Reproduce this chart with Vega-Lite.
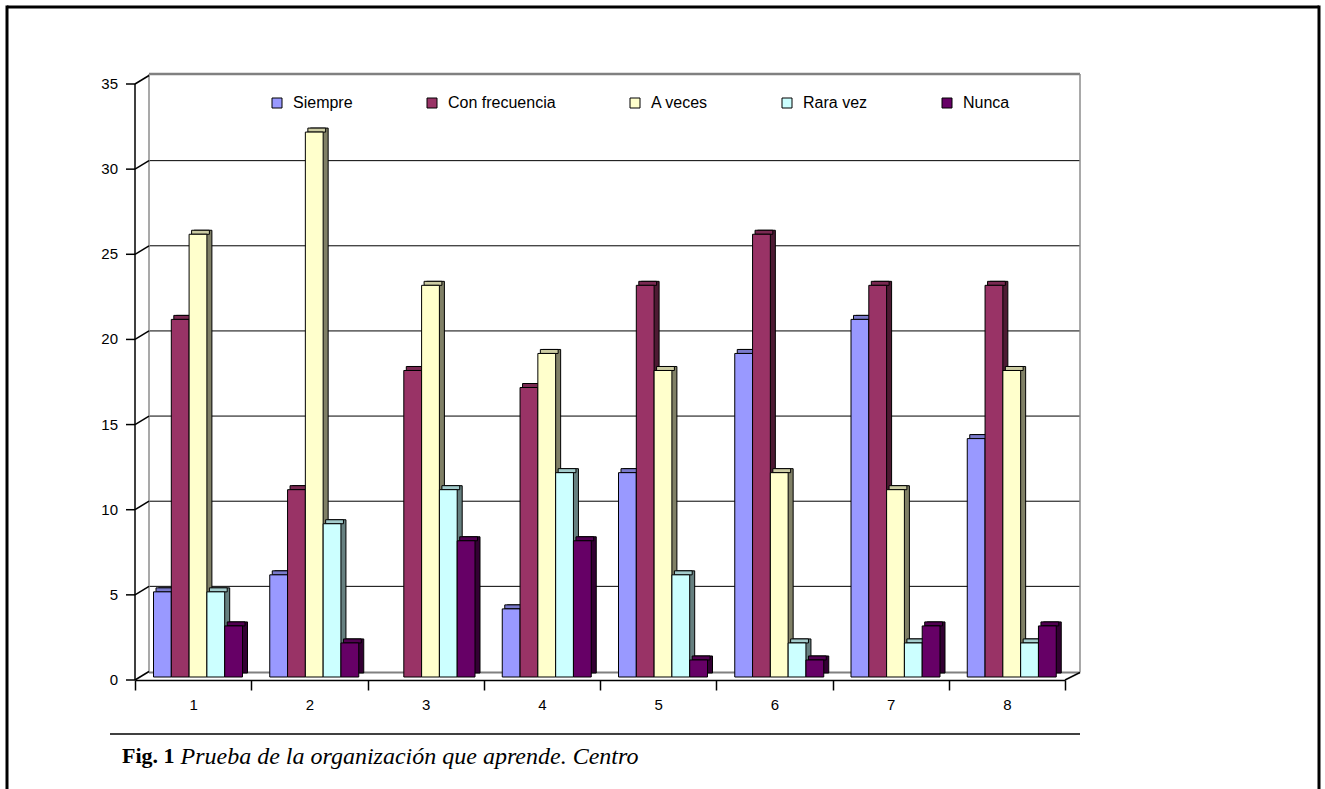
{
  "$schema": "https://vega.github.io/schema/vega-lite/v6.json",
  "width": 1184,
  "height": 787,
  "autosize": "none",
  "padding": {"left": 135, "top": 7, "right": 6, "bottom": -5},
  "background": "white",
  "config": {
    "font": "Liberation Sans",
    "view": {"stroke": null}
  },
  "datasets": {
    "barras": [
      {"grupo": "1", "serie": "Siempre", "valor": 5},
      {"grupo": "1", "serie": "Con frecuencia", "valor": 21},
      {"grupo": "1", "serie": "A veces", "valor": 26},
      {"grupo": "1", "serie": "Rara vez", "valor": 5},
      {"grupo": "1", "serie": "Nunca", "valor": 3},
      {"grupo": "2", "serie": "Siempre", "valor": 6},
      {"grupo": "2", "serie": "Con frecuencia", "valor": 11},
      {"grupo": "2", "serie": "A veces", "valor": 32},
      {"grupo": "2", "serie": "Rara vez", "valor": 9},
      {"grupo": "2", "serie": "Nunca", "valor": 2},
      {"grupo": "3", "serie": "Con frecuencia", "valor": 18},
      {"grupo": "3", "serie": "A veces", "valor": 23},
      {"grupo": "3", "serie": "Rara vez", "valor": 11},
      {"grupo": "3", "serie": "Nunca", "valor": 8},
      {"grupo": "4", "serie": "Siempre", "valor": 4},
      {"grupo": "4", "serie": "Con frecuencia", "valor": 17},
      {"grupo": "4", "serie": "A veces", "valor": 19},
      {"grupo": "4", "serie": "Rara vez", "valor": 12},
      {"grupo": "4", "serie": "Nunca", "valor": 8},
      {"grupo": "5", "serie": "Siempre", "valor": 12},
      {"grupo": "5", "serie": "Con frecuencia", "valor": 23},
      {"grupo": "5", "serie": "A veces", "valor": 18},
      {"grupo": "5", "serie": "Rara vez", "valor": 6},
      {"grupo": "5", "serie": "Nunca", "valor": 1},
      {"grupo": "6", "serie": "Siempre", "valor": 19},
      {"grupo": "6", "serie": "Con frecuencia", "valor": 26},
      {"grupo": "6", "serie": "A veces", "valor": 12},
      {"grupo": "6", "serie": "Rara vez", "valor": 2},
      {"grupo": "6", "serie": "Nunca", "valor": 1},
      {"grupo": "7", "serie": "Siempre", "valor": 21},
      {"grupo": "7", "serie": "Con frecuencia", "valor": 23},
      {"grupo": "7", "serie": "A veces", "valor": 11},
      {"grupo": "7", "serie": "Rara vez", "valor": 2},
      {"grupo": "7", "serie": "Nunca", "valor": 3},
      {"grupo": "8", "serie": "Siempre", "valor": 14},
      {"grupo": "8", "serie": "Con frecuencia", "valor": 23},
      {"grupo": "8", "serie": "A veces", "valor": 18},
      {"grupo": "8", "serie": "Rara vez", "valor": 2},
      {"grupo": "8", "serie": "Nunca", "valor": 3}
    ],
    "niveles": [{"v": 0}, {"v": 5}, {"v": 10}, {"v": 15}, {"v": 20}, {"v": 25}, {"v": 30}, {"v": 35}],
    "uno": [{"k": 1}]
  },
  "layer": [
    {
      "data": {"name": "uno"},
      "mark": {"type": "rule", "color": "black", "strokeWidth": 3, "xOffset": -128, "x2Offset": 239, "yOffset": -77},
      "encoding": {
        "x": {"datum": 0, "type": "quantitative", "scale": {"domain": [0, 100], "range": [0, 945]}, "axis": null},
        "x2": {"datum": 100},
        "y": {"datum": 35, "type": "quantitative", "axis": null}
      }
    },
    {
      "data": {"name": "uno"},
      "mark": {"type": "rule", "color": "black", "strokeWidth": 3, "xOffset": -128, "yOffset": -78.5, "y2Offset": 120},
      "encoding": {
        "x": {"datum": 0, "type": "quantitative", "scale": {"domain": [0, 100], "range": [0, 945]}, "axis": null},
        "y": {"datum": 35, "type": "quantitative", "axis": null},
        "y2": {"datum": 0}
      }
    },
    {
      "data": {"name": "uno"},
      "mark": {"type": "rule", "color": "black", "strokeWidth": 3, "xOffset": 239, "yOffset": -78.5, "y2Offset": 120},
      "encoding": {
        "x": {"datum": 100, "type": "quantitative", "scale": {"domain": [0, 100], "range": [0, 945]}, "axis": null},
        "y": {"datum": 35, "type": "quantitative", "axis": null},
        "y2": {"datum": 0}
      }
    },
    {
      "data": {"name": "niveles"},
      "transform": [{"filter": "datum.v > 0 && datum.v < 35"}],
      "mark": {"type": "rule", "color": "black", "strokeWidth": 1, "xOffset": 14, "yOffset": -8.5},
      "encoding": {
        "x": {"datum": 0, "type": "quantitative", "scale": {"domain": [0, 100], "range": [0, 945]}, "axis": null},
        "x2": {"datum": 100},
        "y": {"field": "v", "type": "quantitative", "axis": null}
      }
    },
    {
      "data": {"name": "uno"},
      "mark": {"type": "rule", "color": "#808080", "strokeWidth": 2.5, "xOffset": 14, "yOffset": -10},
      "encoding": {
        "x": {"datum": 0, "type": "quantitative", "scale": {"domain": [0, 100], "range": [0, 945]}, "axis": null},
        "x2": {"datum": 100},
        "y": {"datum": 35, "type": "quantitative", "axis": null}
      }
    },
    {
      "data": {"name": "uno"},
      "mark": {"type": "rule", "color": "#808080", "strokeWidth": 2, "xOffset": 14, "yOffset": -7.5},
      "encoding": {
        "x": {"datum": 0, "type": "quantitative", "scale": {"domain": [0, 100], "range": [0, 945]}, "axis": null},
        "x2": {"datum": 100},
        "y": {"datum": 0, "type": "quantitative", "axis": null}
      }
    },
    {
      "data": {"name": "uno"},
      "mark": {"type": "rule", "color": "#8c8c8c", "strokeWidth": 1.5, "xOffset": 14, "yOffset": -7.5, "y2Offset": -10},
      "encoding": {
        "x": {"datum": 0, "type": "quantitative", "scale": {"domain": [0, 100], "range": [0, 945]}, "axis": null},
        "y": {"datum": 0, "type": "quantitative", "axis": null},
        "y2": {"datum": 35}
      }
    },
    {
      "data": {"name": "uno"},
      "mark": {"type": "rule", "color": "#8c8c8c", "strokeWidth": 1.5, "yOffset": -7.5, "y2Offset": -10},
      "encoding": {
        "x": {"datum": 100, "type": "quantitative", "scale": {"domain": [0, 100], "range": [0, 945]}, "axis": null},
        "y": {"datum": 0, "type": "quantitative", "axis": null},
        "y2": {"datum": 35}
      }
    },
    {
      "data": {"name": "niveles"},
      "mark": {"type": "rule", "color": "black", "strokeWidth": 1.5, "x2Offset": 14, "y2Offset": -8.5},
      "encoding": {
        "x": {"datum": 0, "type": "quantitative", "scale": {"domain": [0, 100], "range": [0, 945]}, "axis": null},
        "x2": {"datum": 0},
        "y": {"field": "v", "type": "quantitative", "axis": null},
        "y2": {"field": "v"}
      }
    },
    {
      "data": {"name": "niveles"},
      "mark": {"type": "rule", "color": "black", "strokeWidth": 1.5, "xOffset": -9},
      "encoding": {
        "x": {"datum": 0, "type": "quantitative", "scale": {"domain": [0, 100], "range": [0, 945]}, "axis": null},
        "x2": {"datum": 0},
        "y": {"field": "v", "type": "quantitative", "axis": null}
      }
    },
    {
      "data": {"name": "uno"},
      "mark": {"type": "rule", "color": "black", "strokeWidth": 1.5},
      "encoding": {
        "x": {"datum": 0, "type": "quantitative", "scale": {"domain": [0, 100], "range": [0, 945]}, "axis": null},
        "y": {"datum": 0, "type": "quantitative", "axis": null},
        "y2": {"datum": 35}
      }
    },
    {
      "data": {"name": "niveles"},
      "mark": {"type": "text", "align": "right", "baseline": "middle", "fontSize": 15, "font": "Liberation Sans", "color": "black", "xOffset": -17},
      "encoding": {
        "x": {"datum": 0, "type": "quantitative", "scale": {"domain": [0, 100], "range": [0, 945]}, "axis": null},
        "y": {"field": "v", "type": "quantitative", "axis": null},
        "text": {"field": "v", "type": "quantitative"}
      }
    },
    {
      "data": {"name": "uno"},
      "mark": {"type": "text", "align": "left", "baseline": "alphabetic", "fontSize": 22, "font": "Liberation Serif", "fontWeight": "bold", "color": "black", "xOffset": -13, "yOffset": 83},
      "encoding": {
        "x": {"datum": 0, "type": "quantitative", "scale": {"domain": [0, 100], "range": [0, 945]}, "axis": null},
        "y": {"datum": 0, "type": "quantitative", "axis": null},
        "text": {"value": "Fig. 1"}
      }
    },
    {
      "data": {"name": "uno"},
      "mark": {"type": "rule", "color": "black", "strokeWidth": 1.5, "xOffset": -15, "y2Offset": -7.5},
      "encoding": {
        "x": {"datum": 100, "type": "quantitative", "scale": {"domain": [0, 100], "range": [0, 945]}, "axis": null},
        "x2": {"datum": 100},
        "y": {"datum": 0, "type": "quantitative", "axis": null},
        "y2": {"datum": 0}
      }
    },
    {
      "data": {"name": "uno"},
      "mark": {"type": "rule", "color": "black", "strokeWidth": 1.5, "xOffset": -25, "yOffset": 54, "y2Offset": 54},
      "encoding": {
        "x": {"datum": 0, "type": "quantitative", "scale": {"domain": [0, 100], "range": [0, 945]}, "axis": null},
        "x2": {"datum": 100},
        "y": {"datum": 0, "type": "quantitative", "axis": null}
      }
    },
    {
      "data": {"name": "barras"},
      "mark": {"type": "bar", "stroke": "black", "strokeWidth": 1, "yOffset": -7, "y2Offset": -7},
      "encoding": {
        "x": {"field": "grupo", "type": "nominal", "scale": {"domain": ["1", "2", "3", "4", "5", "6", "7", "8"], "range": [0, 930], "paddingInner": 0, "paddingOuter": 0}, "axis": null},
        "xOffset": {"field": "serie", "type": "nominal", "scale": {"domain": ["Siempre", "Con frecuencia", "A veces", "Rara vez", "Nunca"], "range": [23.5, 112.5], "paddingInner": 0, "paddingOuter": 0}},
        "y": {"field": "valor", "type": "quantitative", "stack": null, "axis": null},
        "y2": {"datum": 0},
        "fill": {"field": "serie", "type": "nominal", "scale": {"domain": ["Siempre", "Con frecuencia", "A veces", "Rara vez", "Nunca"], "range": ["#4d4d80", "#4d1a33", "#808066", "#668080", "#330033"]}, "legend": null}
      }
    },
    {
      "data": {"name": "barras"},
      "mark": {"type": "bar", "stroke": "black", "strokeWidth": 1, "yOffset": -7, "y2Offset": -3},
      "encoding": {
        "x": {"field": "grupo", "type": "nominal", "scale": {"domain": ["1", "2", "3", "4", "5", "6", "7", "8"], "range": [0, 930], "paddingInner": 0, "paddingOuter": 0}, "axis": null},
        "xOffset": {"field": "serie", "type": "nominal", "scale": {"domain": ["Siempre", "Con frecuencia", "A veces", "Rara vez", "Nunca"], "range": [21, 110], "paddingInner": 0, "paddingOuter": 0}},
        "y": {"field": "valor", "type": "quantitative", "stack": null, "axis": null},
        "y2": {"field": "valor"},
        "fill": {"field": "serie", "type": "nominal", "scale": {"domain": ["Siempre", "Con frecuencia", "A veces", "Rara vez", "Nunca"], "range": ["#7a7acc", "#7a2952", "#cccca3", "#a3cccc", "#520052"]}, "legend": null}
      }
    },
    {
      "data": {"name": "barras"},
      "mark": {"type": "bar", "stroke": "black", "strokeWidth": 1, "yOffset": -3, "y2Offset": -3},
      "encoding": {
        "x": {
          "field": "grupo", "type": "nominal",
          "scale": {"domain": ["1", "2", "3", "4", "5", "6", "7", "8"], "range": [0, 930], "paddingInner": 0, "paddingOuter": 0},
          "axis": {
            "offset": -114, "labelAngle": 0, "tickBand": "extent", "tickSize": 10, "tickColor": "black", "tickWidth": 1.5,
            "domainColor": "black", "domainWidth": 1.5, "labelFontSize": 15, "labelColor": "black", "labelPadding": 7, "grid": false,
            "title": "Prueba de la organización que aprende. Centro", "titleX": 45, "titleY": 83, "titleAlign": "left", "titleBaseline": "alphabetic",
            "titleFont": "Liberation Serif", "titleFontSize": 24, "titleFontStyle": "italic", "titleFontWeight": "normal", "titleColor": "black"
          }
        },
        "xOffset": {"field": "serie", "type": "nominal", "scale": {"domain": ["Siempre", "Con frecuencia", "A veces", "Rara vez", "Nunca"], "range": [18.5, 107.5], "paddingInner": 0, "paddingOuter": 0}},
        "y": {
          "field": "valor", "type": "quantitative", "stack": null,
          "scale": {"domain": [0, 35], "range": [673, 77], "nice": false, "zero": true},
          "axis": null
        },
        "y2": {"datum": 0},
        "fill": {
          "field": "serie", "type": "nominal",
          "scale": {"domain": ["Siempre", "Con frecuencia", "A veces", "Rara vez", "Nunca"], "range": ["#9999ff", "#993366", "#ffffcc", "#ccffff", "#660066"]},
          "legend": {
            "orient": "none", "legendX": 134, "legendY": 88, "direction": "horizontal", "columns": 5, "title": null,
            "symbolType": "square", "symbolSize": 100, "symbolStrokeColor": "black", "symbolStrokeWidth": 1,
            "labelFontSize": 16, "labelColor": "black", "labelOffset": 8, "columnPadding": 71, "padding": 0, "labelFont": "Liberation Sans"
          }
        }
      }
    }
  ],
  "resolve": {"scale": {"x": "independent", "xOffset": "independent", "fill": "independent"}}
}
